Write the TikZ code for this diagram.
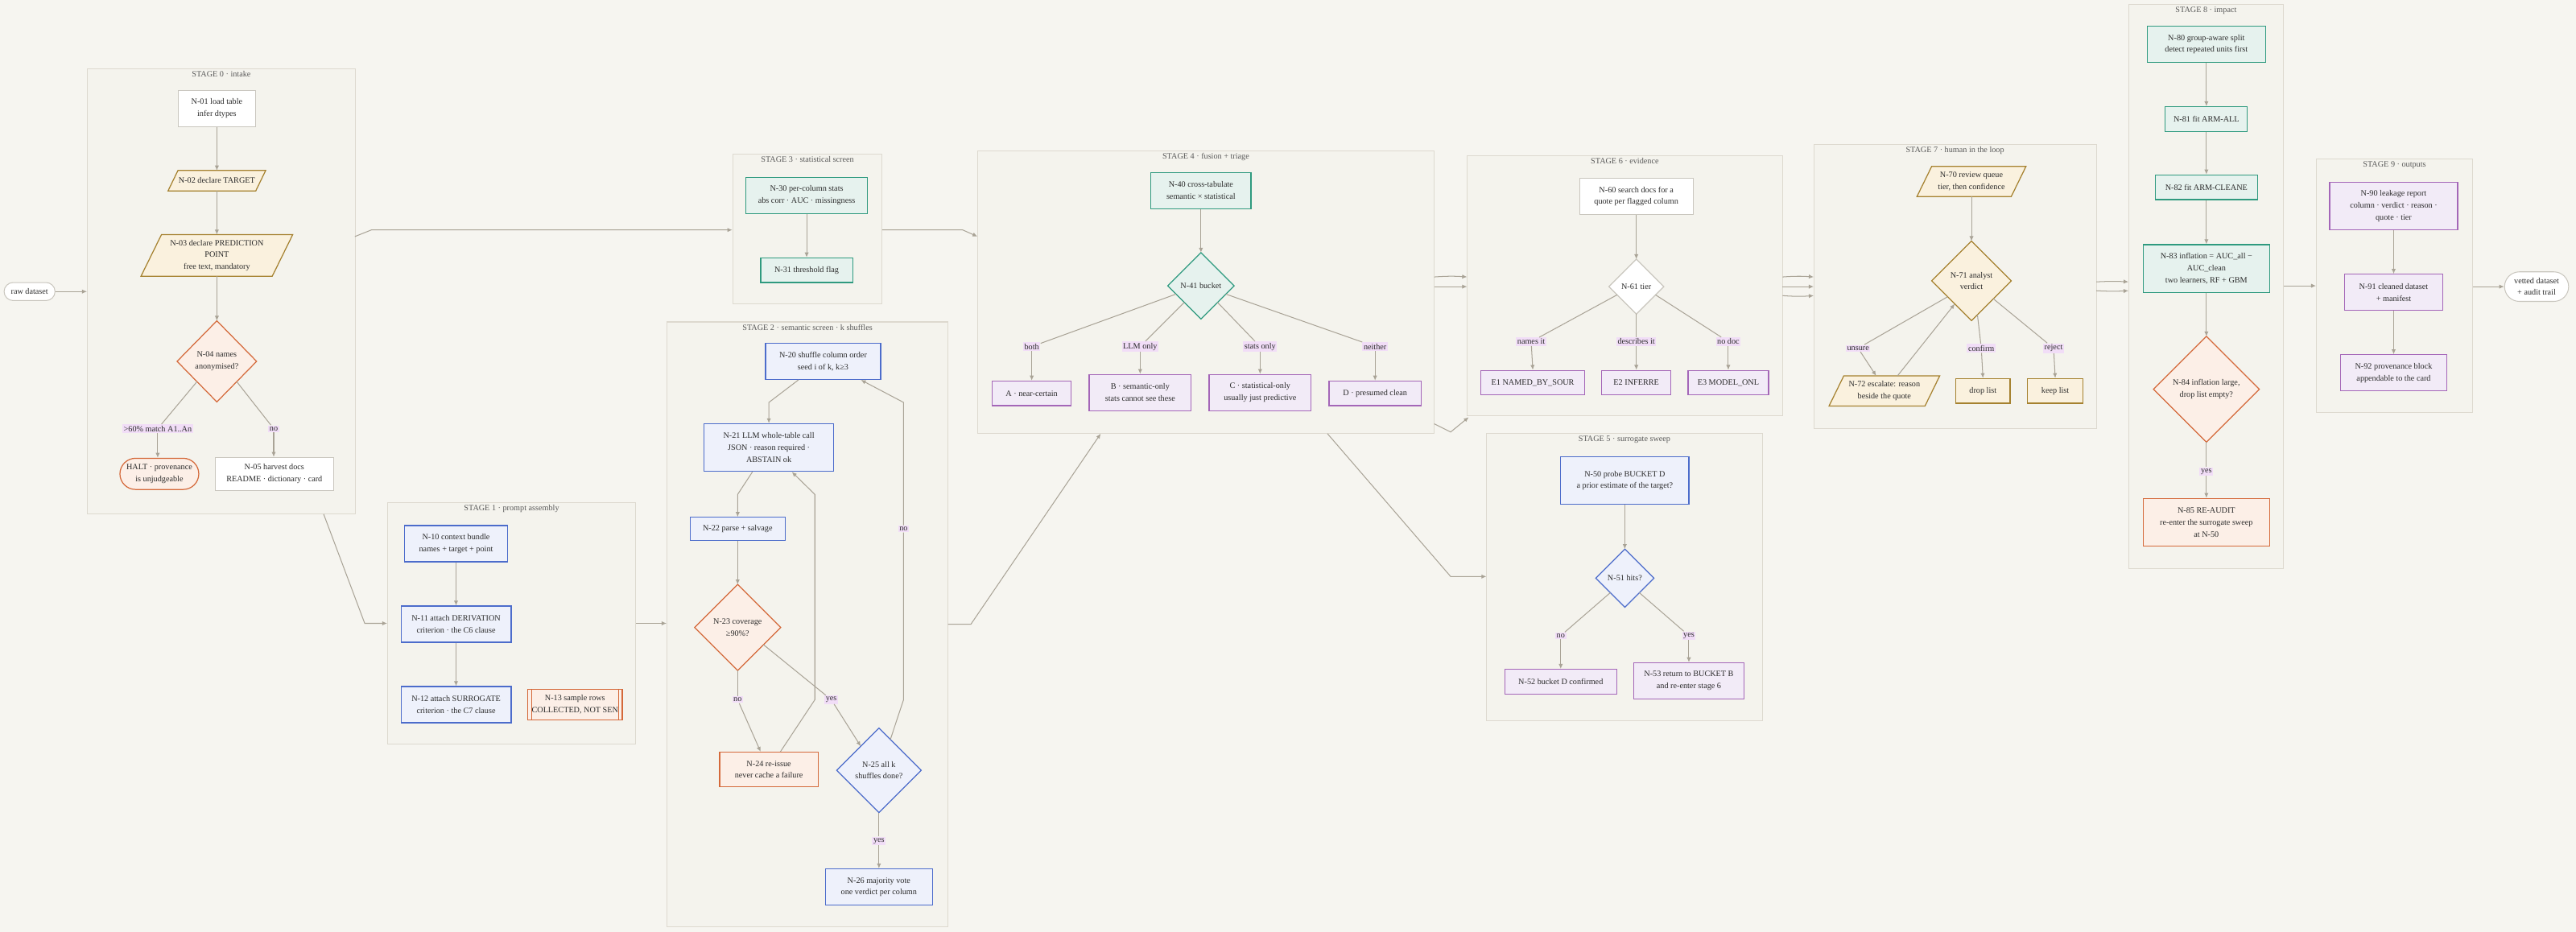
\documentclass[tikz,border=0pt]{standalone}
\usepackage{fontspec}
\setmainfont{Liberation Serif}
\usetikzlibrary{calc,arrows.meta}
\definecolor{bg}{HTML}{F6F5F0}
\definecolor{stf}{HTML}{F4F3ED}
\definecolor{sts}{HTML}{DDD9CF}
\definecolor{con}{HTML}{A9A396}
\definecolor{labf}{HTML}{F1DDF7}
\definecolor{bluef}{HTML}{EEF1FB}\definecolor{blues}{HTML}{4C6CCB}
\definecolor{tealf}{HTML}{E6F2EE}\definecolor{teals}{HTML}{2F9A7F}
\definecolor{purf}{HTML}{F2EBF7}\definecolor{purs}{HTML}{A466B8}
\definecolor{orf}{HTML}{FCEFE7}\definecolor{ors}{HTML}{D4693A}
\definecolor{crf}{HTML}{FAF1DE}\definecolor{crs}{HTML}{A5812F}
\definecolor{whs}{HTML}{C9C6BE}
\definecolor{txc}{HTML}{2B2B2B}
\newcommand{\ft}{\fontsize{5}{7.2}\selectfont}
\tikzset{
 txt/.style={align=center,font=\ft,text=txc,inner sep=0pt},
 bx/.style={draw,line width=0.6pt,align=center,font=\ft,text=txc,inner sep=1pt},
 bl/.style={bx,fill=bluef,draw=blues},
 te/.style={bx,fill=tealf,draw=teals},
 pu/.style={bx,fill=purf,draw=purs},
 orr/.style={bx,fill=orf,draw=ors},
 cr/.style={bx,fill=crf,draw=crs},
 wh/.style={bx,fill=white,draw=whs},
 dbl/.style={fill=bluef,draw=blues,line width=0.6pt},
 dte/.style={fill=tealf,draw=teals,line width=0.6pt},
 dor/.style={fill=orf,draw=ors,line width=0.6pt},
 dcr/.style={fill=crf,draw=crs,line width=0.6pt},
 dwh/.style={fill=white,draw=whs,line width=0.6pt},
 stage/.style={draw=sts,fill=stf,line width=0.5pt,inner sep=0pt},
 stitle/.style={font=\ft,text=black!65,inner sep=0pt,anchor=north},
 lab/.style={fill=labf,font=\ft,text=txc,inner sep=0.8pt},
 cn/.style={draw=con,line width=0.5pt},
 arr/.style={cn,-{Latex[length=3pt,width=2.6pt]}},
}
\newcommand{\Dia}[7]{%
 \node[minimum width=#4pt,minimum height=#5pt,inner sep=0pt] (#1) at (#2,#3) {};
 \draw[#6] (#1.north)--(#1.east)--(#1.south)--(#1.west)--cycle;
 \node[txt] at (#1) {#7};}
\newcommand{\Para}[6]{%
 \node[minimum width=#4pt,minimum height=#5pt,inner sep=0pt] (#1) at (#2,#3) {};
 \draw[dcr] (#1.south west)--($(#1.south east)+(-0.5*#5,0)$)--(#1.north east)--($(#1.north west)+(0.5*#5,0)$)--cycle;
 \node[txt] at (#1) {#6};}
\begin{document}
\begin{tikzpicture}[x=1pt,y=-1pt]
\useasboundingbox (0,0) rectangle (1568,567.4);
\fill[bg] (0,0) rectangle (1568,567.4);
% stages
\node[stage,minimum width=163pt,minimum height=271pt] (s0) at (134.7,177.4) {};
\node[stage,minimum width=151pt,minimum height=147pt] (s1) at (311.4,379.5) {};
\node[stage,minimum width=171pt,minimum height=368pt] (s2) at (491.5,380) {};
\node[stage,minimum width=91pt,minimum height=91pt] (s3) at (491.5,139.5) {};
\node[stage,minimum width=278pt,minimum height=172pt] (s4) at (734,178) {};
\node[stage,minimum width=167.6pt,minimum height=175pt] (s5) at (988.8,351.5) {};
\node[stage,minimum width=192pt,minimum height=158pt] (s6) at (989,174) {};
\node[stage,minimum width=172pt,minimum height=173pt] (s7) at (1190,174.5) {};
\node[stage,minimum width=94.4pt,minimum height=343.3pt] (s8) at (1342.8,174.4) {};
\node[stage,minimum width=95pt,minimum height=154pt] (s9) at (1457.5,174) {};
\node[stitle] (t0) at ([yshift=-1.5pt]s0.north) {STAGE 0 · intake};
\node[stitle] (t1) at ([yshift=-1.5pt]s1.north) {STAGE 1 · prompt assembly};
\node[stitle] (t2) at ([yshift=-1.5pt]s2.north) {STAGE 2 · semantic screen · k shuffles};
\node[stitle] (t3) at ([yshift=-1.5pt]s3.north) {STAGE 3 · statistical screen};
\node[stitle] (t4) at ([yshift=-1.5pt]s4.north) {STAGE 4 · fusion + triage};
\node[stitle] (t5) at ([yshift=-1.5pt]s5.north) {STAGE 5 · surrogate sweep};
\node[stitle] (t6) at ([yshift=-1.5pt]s6.north) {STAGE 6 · evidence};
\node[stitle] (t7) at ([yshift=-1.5pt]s7.north) {STAGE 7 · human in the loop};
\node[stitle] (t8) at ([yshift=-1.5pt]s8.north) {STAGE 8 · impact};
\node[stitle] (t9) at ([yshift=-1.5pt]s9.north) {STAGE 9 · outputs};
% terminals
\node[wh,rounded corners=5.5pt,minimum width=31pt,minimum height=11pt,line width=0.5pt] (raw) at (18,177.5) {raw dataset};
\node[wh,rounded corners=9pt,minimum width=39pt,minimum height=18pt,line width=0.5pt] (vet) at (1544,174.5) {vetted dataset\\+ audit trail};
% stage 0
\node[wh,minimum width=47pt,minimum height=22pt,line width=0.5pt] (n01) at (132,66) {N-01 load table\\infer dtypes};
\Para{n02}{132}{110}{59}{12}{N-02 declare TARGET}
\Para{n03}{132}{155.5}{92}{25}{N-03 declare PREDICTION\\POINT\\free text, mandatory}
\Dia{n04}{132}{220}{48}{49}{dor}{N-04 names\\anonymised?}
\node[lab] (l04a) at (96,261) {>60\% match A1..An};
\node[lab] (l04b) at (166.6,261) {no};
\node[orr,rounded corners=9.5pt,minimum width=48pt,minimum height=19pt] (halt) at (97,288.5) {HALT · provenance\\is unjudgeable};
\node[wh,minimum width=72pt,minimum height=20pt] (n05) at (167,288.5) {N-05 harvest docs\\README · dictionary · card};
\draw[arr] (n01.south) -- (n02.north);
\draw[arr] (n02.south) -- (n03.north);
\draw[arr] (n03.south) -- (n04.north);
\draw[cn] ($(n04.west)!0.5!(n04.south)$) -- (l04a);
\draw[arr] (l04a) -- (l04a|-halt.north);
\draw[cn] ($(n04.south)!0.5!(n04.east)$) -- (l04b);
\draw[arr] (l04b) -- (l04b|-n05.north);
% stage 1
\node[bl,minimum width=63pt,minimum height=22pt] (n10) at (277.6,331) {N-10 context bundle\\names + target + point};
\node[bl,minimum width=67pt,minimum height=22pt] (n11) at (277.6,380) {N-11 attach DERIVATION\\criterion · the C6 clause};
\node[bl,minimum width=67pt,minimum height=22pt] (n12) at (277.6,429) {N-12 attach SURROGATE\\criterion · the C7 clause};
\node[orr,minimum width=57.5pt,minimum height=18.6pt,inner sep=0pt] (n13) at (350,429) {N-13 sample rows\\COLLECTED, NOT SEN};
\draw[ors,line width=0.5pt] ([xshift=2.5pt]n13.north west) -- ([xshift=2.5pt]n13.south west);
\draw[ors,line width=0.5pt] ([xshift=-2.5pt]n13.north east) -- ([xshift=-2.5pt]n13.south east);
\draw[arr] (n10.south) -- (n11.north);
\draw[arr] (n11.south) -- (n12.north);
% stage 2
\node[bl,minimum width=70pt,minimum height=22pt] (n20) at (501,220) {N-20 shuffle column order\\seed i of k, k≥3};
\node[bl,minimum width=79pt,minimum height=29pt] (n21) at (468,272.5) {N-21 LLM whole-table call\\JSON · reason required ·\\ABSTAIN ok};
\node[bl,minimum width=58pt,minimum height=14pt] (n22) at (449,322) {N-22 parse + salvage};
\Dia{n23}{449}{382}{52}{52}{dor}{N-23 coverage\\≥90\%?}
\node[orr,minimum width=60pt,minimum height=21pt] (n24) at (468,468.5) {N-24 re-issue\\never cache a failure};
\Dia{n25}{535}{469}{51}{51}{dbl}{N-25 all k\\shuffles done?}
\node[bl,minimum width=65pt,minimum height=22pt] (n26) at (535,540) {N-26 majority vote\\one verdict per column};
\coordinate (b1) at (468,245);
\draw[arr] ([xshift=-15pt]n20.south) -- (b1) -- (n21.north);
\coordinate (b2) at (449,301);
\draw[arr] ([xshift=-10pt]n21.south) -- (b2) -- (n22.north);
\draw[arr] (n22.south) -- (n23.north);
\node[lab] (l23n) at (449,426) {no};
\node[lab] (l23y) at (506,426) {yes};
\draw[cn] (n23.south) -- (l23n);
\draw[arr] (l23n) -- ([xshift=-5pt]n24.north);
\draw[cn] ($(n23.south)!0.6!(n23.east)$) -- (l23y);
\draw[arr] (l23y) -- ($(n25.north)!0.43!(n25.west)$);
\coordinate (b3) at (496,426); \coordinate (b4) at (496,301);
\draw[arr] ([xshift=7pt]n24.north) -- (b3) -- (b4) -- ([xshift=14pt]n21.south);
\coordinate (b5) at (550,426); \coordinate (b6) at (550,245);
\node[lab] (l25n) at (550,322) {no};
\draw[cn] ($(n25.north)!0.27!(n25.east)$) -- (b5) -- (l25n);
\draw[arr] (l25n) -- (b6) -- ([xshift=23pt]n20.south);
\node[lab] (l25y) at (535,512) {yes};
\draw[cn] (n25.south) -- (l25y);
\draw[arr] (l25y) -- (n26.north);
% stage 3
\node[te,minimum width=74pt,minimum height=22pt] (n30) at (491,119) {N-30 per-column stats\\abs corr · AUC · missingness};
\node[te,minimum width=56pt,minimum height=15pt] (n31) at (491,164.5) {N-31 threshold flag};
\draw[arr] (n30.south) -- (n31.north);
% stage 4
\node[te,minimum width=61pt,minimum height=22pt] (n40) at (731,116) {N-40 cross-tabulate\\semantic × statistical};
\Dia{n41}{731}{174}{40}{40}{dte}{N-41 bucket}
\draw[arr] (n40.south) -- (n41.north);
\node[pu,minimum width=48pt,minimum height=15pt] (bA) at (628,239.5) {A · near-certain};
\node[pu,minimum width=62pt,minimum height=22pt] (bB) at (694,239) {B · semantic-only\\stats cannot see these};
\node[pu,minimum width=62pt,minimum height=22pt] (bC) at (767,239) {C · statistical-only\\usually just predictive};
\node[pu,minimum width=56pt,minimum height=15pt] (bD) at (837,239.5) {D · presumed clean};
\node[lab] (la) at (628,211) {both};
\node[lab] (lb) at (694,211) {LLM only};
\node[lab] (lc) at (767,211) {stats only};
\node[lab] (ld) at (837,211) {neither};
\draw[cn] ($(n41.west)!0.25!(n41.south)$) -- (la); \draw[arr] (la) -- (bA.north);
\draw[cn] ($(n41.west)!0.5!(n41.south)$) -- (lb); \draw[arr] (lb) -- (bB.north);
\draw[cn] ($(n41.south)!0.5!(n41.east)$) -- (lc); \draw[arr] (lc) -- (bC.north);
\draw[cn] ($(n41.east)!0.25!(n41.south)$) -- (ld); \draw[arr] (ld) -- (bD.north);
% stage 5
\node[bl,minimum width=78pt,minimum height=29pt] (n50) at (989,292.5) {N-50 probe BUCKET D\\a prior estimate of the target?};
\Dia{n51}{989}{352}{35}{35}{dbl}{N-51 hits?}
\node[pu,minimum width=68pt,minimum height=15pt] (n52) at (950,415) {N-52 bucket D confirmed};
\node[pu,minimum width=67pt,minimum height=22pt] (n53) at (1028,414.5) {N-53 return to BUCKET B\\and re-enter stage 6};
\draw[arr] (n50.south) -- (n51.north);
\node[lab] (l51n) at (950,387) {no};
\node[lab] (l51y) at (1028,387) {yes};
\draw[cn] ($(n51.west)!0.5!(n51.south)$) -- (l51n); \draw[arr] (l51n) -- (n52.north);
\draw[cn] ($(n51.south)!0.5!(n51.east)$) -- (l51y); \draw[arr] (l51y) -- (n53.north);
% stage 6
\node[wh,minimum width=69pt,minimum height=22pt,line width=0.5pt] (n60) at (996,119.5) {N-60 search docs for a\\quote per flagged column};
\Dia{n61}{996}{174.5}{33}{33}{dwh}{N-61 tier}
\draw[arr] (n60.south) -- (n61.north);
\node[pu,minimum width=63pt,minimum height=15pt] (e1) at (933,233) {E1 NAMED\_BY\_SOUR};
\node[pu,minimum width=42pt,minimum height=15pt] (e2) at (996,233) {E2 INFERRE};
\node[pu,minimum width=49pt,minimum height=15pt] (e3) at (1052,233) {E3 MODEL\_ONL};
\node[lab] (le1) at (932,208) {names it};
\node[lab] (le2) at (996,208) {describes it};
\node[lab] (le3) at (1052,208) {no doc};
\draw[cn] ($(n61.west)!0.3!(n61.south)$) -- (le1); \draw[arr] (le1) -- (e1.north);
\draw[cn] (n61.south) -- (le2); \draw[arr] (le2) -- (e2.north);
\draw[cn] ($(n61.east)!0.3!(n61.south)$) -- (le3); \draw[arr] (le3) -- (e3.north);
% stage 7
\Para{n70}{1200}{110.5}{66}{18}{N-70 review queue\\tier, then confidence}
\Dia{n71}{1200}{171}{48}{48}{dcr}{N-71 analyst\\verdict}
\Para{n72}{1147}{238}{67}{18}{N-72 escalate: reason\\beside the quote}
\node[cr,minimum width=33pt,minimum height=15pt] (drop) at (1207,238) {drop list};
\node[cr,minimum width=34pt,minimum height=15pt] (keep) at (1251,238) {keep list};
\draw[arr] (n70.south) -- (n71.north);
\node[lab] (lun) at (1131,212) {unsure};
\node[lab] (lcf) at (1206,212) {confirm};
\node[lab] (lrj) at (1250,212) {reject};
\draw[cn] ($(n71.west)!0.4!(n71.south)$) -- (lun); \draw[arr] (lun) -- ([xshift=-5pt]n72.north);
\draw[arr] ([xshift=8pt]n72.north) -- ($(n71.west)!0.58!(n71.south)$);
\draw[cn] ($(n71.south)!0.15!(n71.east)$) -- (lcf); \draw[arr] (lcf) -- (drop.north);
\draw[cn] ($(n71.south)!0.55!(n71.east)$) -- (lrj); \draw[arr] (lrj) -- (keep.north);
% stage 8
\node[te,minimum width=72pt,minimum height=22pt] (n80) at (1343,27) {N-80 group-aware split\\detect repeated units first};
\node[te,minimum width=50pt,minimum height=15pt] (n81) at (1343,72.5) {N-81 fit ARM-ALL};
\node[te,minimum width=62pt,minimum height=15pt] (n82) at (1343,114) {N-82 fit ARM-CLEANE};
\node[te,minimum width=77pt,minimum height=29pt] (n83) at (1343,163.5) {N-83 inflation = AUC\_all −\\AUC\_clean\\two learners, RF + GBM};
\Dia{n84}{1343}{237}{64}{64}{dor}{N-84 inflation large,\\drop list empty?}
\node[orr,minimum width=77pt,minimum height=29pt] (n85) at (1343,318) {N-85 RE-AUDIT\\re-enter the surrogate sweep\\at N-50};
\draw[arr] (n80.south) -- (n81.north);
\draw[arr] (n81.south) -- (n82.north);
\draw[arr] (n82.south) -- (n83.north);
\draw[arr] (n83.south) -- (n84.north);
\node[lab] (l84) at (1343,287) {yes};
\draw[cn] (n84.south) -- (l84); \draw[arr] (l84) -- (n85.north);
% stage 9
\node[pu,minimum width=78pt,minimum height=29pt] (n90) at (1457,125.5) {N-90 leakage report\\column · verdict · reason ·\\quote · tier};
\node[pu,minimum width=60pt,minimum height=22pt] (n91) at (1457,178) {N-91 cleaned dataset\\+ manifest};
\node[pu,minimum width=65pt,minimum height=22pt] (n92) at (1457,227) {N-92 provenance block\\appendable to the card};
\draw[arr] (n90.south) -- (n91.north);
\draw[arr] (n91.south) -- (n92.north);
% inter-stage connectors
\draw[arr] (raw.east) -- (s0.west|-raw);
\coordinate (c1) at (216,144); \coordinate (c2) at (226,140);
\draw[arr] (c1) -- (c2) -- (s3.west|-c2);
\coordinate (c3) at (197,313); \coordinate (c4) at (222,379.5);
\draw[arr] (c3) -- (c4) -- (s1.west|-c4);
\draw[arr] (s1.east) -- (s2.west|-s1.east);
\coordinate (c5) at (577,380); \coordinate (c6) at (591,380); \coordinate (c7) at (670,264);
\draw[arr] (c5) -- (c6) -- (c7);
\coordinate (c8) at (537,140); \coordinate (c9) at (586,140); \coordinate (c10) at (595,144);
\draw[arr] (c8) -- (c9) -- (c10);
\coordinate (d1) at (873,168.6); \coordinate (d2) at (893,168.6);
\draw[arr] (d1) to[bend left=4] (d2);
\coordinate (d3) at (873,174.5); \coordinate (d4) at (893,174.5);
\draw[arr] (d3) -- (d4);
\coordinate (d5) at (873,258); \coordinate (d6) at (883,263); \coordinate (d7) at (894,254);
\draw[arr] (d5) -- (d6) -- (d7);
\coordinate (d8) at (808,264); \coordinate (d9) at (883,351);
\draw[arr] (d8) -- (d9) -- (s5.west|-d9);
\foreach \yy/\bb in {168.6/4,174.5/0,180/-4}{
 \draw[arr] (1085,\yy) to[bend left=\bb] (1104,\yy);}
\draw[arr] (1276,171.6) to[bend left=3] (1295.6,171.6);
\draw[arr] (1276,177) to[bend left=-3] (1295.6,177);
\draw[arr] (s8.east|-s9.west) -- (s9.west);
\draw[arr] (s9.east|-vet) -- (vet.west);
\end{tikzpicture}
\end{document}
